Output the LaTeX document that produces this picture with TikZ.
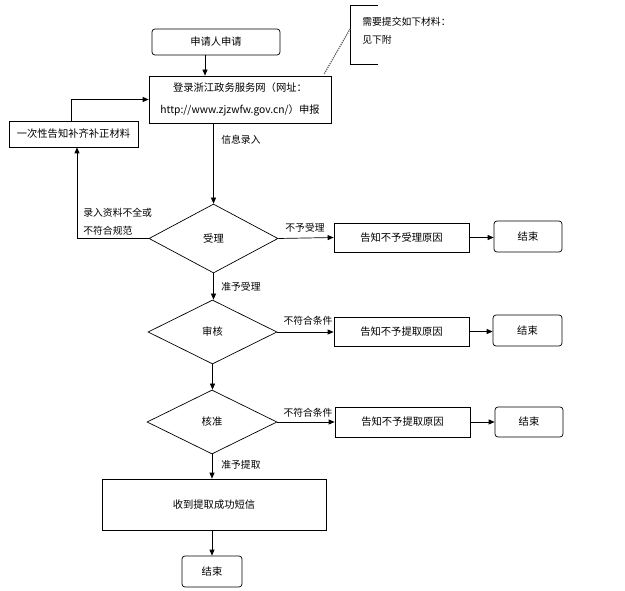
\documentclass[tikz,border=0pt]{standalone}
\usepackage{fontspec}
\setmainfont{Noto Sans CJK SC}
\usetikzlibrary{shapes.geometric,arrows.meta,calc}
\begin{document}
\begin{tikzpicture}[x=1pt,y=-1pt,
  line width=0.7pt,
  every node/.style={font=\fontsize{10.3}{12}\selectfont},
  box/.style={draw,rectangle,inner sep=0pt,minimum width=#1},
  rbox/.style={draw,rectangle,rounded corners=3pt,inner sep=0pt,minimum width=#1},
  dia/.style={draw,diamond,inner sep=0pt},
  lab/.style={font=\fontsize{9.8}{12}\selectfont,inner sep=0pt},
  arr/.style={-{Triangle[length=6pt,width=5pt]}}]
\useasboundingbox (0,0) rectangle (625,591);
\node[rbox=128, minimum height=26] (apply) at (216,42) {申请人申请};
\node[box=182, minimum height=47, align=center, font=\fontsize{10.3}{22}\selectfont] (main) at (240,99.5) {登录浙江政务服务网（网址：\\http://www.zjzwfw.gov.cn/）申报};
\node[box=129, minimum height=26] (fix) at (73.5,134) {一次性告知补齐补正材料};
\node[dia, minimum width=129, minimum height=69] (d1) at (213.5,238.5) {受理};
\node[box=135, minimum height=29] (r1) at (401.5,237.5) {告知不予受理原因};
\node[rbox=68, minimum height=31] (e1) at (528,236.5) {结束};
\node[dia, minimum width=129, minimum height=64] (d2) at (212.5,332) {审核};
\node[box=135, minimum height=29] (r2) at (401.5,331.5) {告知不予提取原因};
\node[rbox=69, minimum height=31] (e2) at (527.5,330.5) {结束};
\node[dia, minimum width=130, minimum height=64] (d3) at (212,422) {核准};
\node[box=135, minimum height=30] (r3) at (402.5,422) {告知不予提取原因};
\node[rbox=68, minimum height=30] (e3) at (529,422) {结束};
\node[box=224, minimum height=51] (sms) at (214,504.5) {收到提取成功短信};
\node[rbox=60, minimum height=31] (e4) at (212,571.5) {结束};
% note bracket
\coordinate (nt) at (378,5);
\coordinate (nb) at (378,64);
\draw (nt) -- (350,5) -- (350,64) -- (nb);
\coordinate (nm) at (350,29);
\node[lab, anchor=west] (note1) at (362,22) {需要提交如下材料：};
\node[lab, anchor=west] (note2) at (362,40) {见下附};
\draw[densely dotted, line width=1.2pt, gray!70!black] ($(main.north east)+(-7,-2)$) -- (nm);
% connectors
\coordinate (a1) at (205,55);
\draw[arr] (a1) -- (a1 |- main.north);
\draw[arr] (main.south -| d1.north) -- (d1.north);
\draw[arr] (d1.west) -| ($(fix.south)+(3.5,0)$);
\draw[arr] ($(fix.north)+(-2.5,0)$) |- (main.west);
\draw[arr] (d1.east) -- (r1.west);
\draw[arr] (r1.east) -- (e1.west |- r1.east);
\draw[arr] (d1.south) -- (d1.south |- d2.north);
\draw[arr] (d2.east) -- (r2.west |- d2.east);
\draw[arr] (r2.east) -- (e2.west |- r2.east);
\draw[arr] (d2.south) -- (d2.south |- d3.north);
\draw[arr] (d3.east) -- (r3.west |- d3.east);
\draw[arr] (r3.east) -- (e3.west |- r3.east);
\draw[arr] (d3.south) -- (d3.south |- sms.north);
\draw[arr] (sms.south -| e4.north) -- (e4.north);
% labels
\node[lab, anchor=west] (l1) at (221,140) {信息录入};
\node[lab, anchor=west] (l2) at (83,213) {录入资料不全或};
\node[lab, anchor=west] (l3) at (83,231) {不符合规范};
\node[lab] (l4) at (305,228) {不予受理};
\node[lab, anchor=west] (l5) at (221,287) {准予受理};
\node[lab] (l6) at (308,321) {不符合条件};
\node[lab] (l7) at (308,413) {不符合条件};
\node[lab, anchor=west] (l8) at (221,465) {准予提取};
\end{tikzpicture}
\end{document}
